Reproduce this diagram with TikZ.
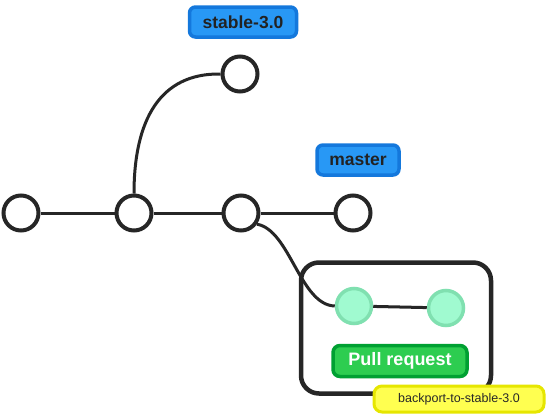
\documentclass[tikz,border=0pt]{standalone}
\usepackage{fontspec}
\setmainfont{Liberation Sans}
\begin{document}
\begin{tikzpicture}[x=1pt,y=-1pt,
  commit/.style={circle,draw=black!85,line width=4pt,fill=white,minimum size=35pt,inner sep=0pt},
  prcommit/.style={circle,draw={rgb,255:red,128;green,224;blue,176},line width=3.5pt,fill={rgb,255:red,160;green,250;blue,208},minimum size=35pt,inner sep=0pt},
  branch/.style={rounded corners=6pt,draw={rgb,255:red,20;green,120;blue,220},line width=3.5pt,fill={rgb,255:red,40;green,152;blue,245},text={rgb,255:red,34;green,34;blue,34},font=\bfseries\fontsize{17.5}{19}\selectfont,minimum height=30pt},
  prlabel/.style={rounded corners=7pt,draw={rgb,255:red,0;green,160;blue,50},line width=3.5pt,fill={rgb,255:red,45;green,205;blue,80},text=white,font=\bfseries\fontsize{18}{20}\selectfont,minimum width=134pt,minimum height=31pt},
  tag/.style={rounded corners=8pt,draw={rgb,255:red,230;green,230;blue,0},line width=3pt,fill={rgb,255:red,255;green,255;blue,80},text={rgb,255:red,40;green,40;blue,40},font=\fontsize{12.5}{14}\selectfont,minimum width=170pt,minimum height=26pt},
  link/.style={draw=black!85,line width=3pt}]
\useasboundingbox (0,0) rectangle (548,415);
\fill[white] (0,0) rectangle (548,415);
% PR box
\node[draw=black!85,line width=4.5pt,rounded corners=18pt,minimum width=190pt,minimum height=131pt] (prbox) at (396,328) {};
% commits
\node[commit] (c1) at (21,213) {};
\node[commit] (c2) at (134,213) {};
\node[commit] (c3) at (241,213) {};
\node[commit] (c4) at (353,213) {};
\node[commit] (ct) at (240,74) {};
\node[prcommit] (p1) at (354,306) {};
\node[prcommit] (p2) at (446,308) {};
% links
\draw[link] (c1) -- (c2);
\draw[link] (c2) -- (c3);
\draw[link] (c3) -- (c4);
\draw[link] (c2.north) .. controls (134,120) and (160,73) .. (ct.west);
\draw[link] (c3.-35) .. controls (290,230) and (300,305) .. (p1.west);
\draw[link] (p1) -- (p2);
% labels
\node[branch,minimum width=107pt] (stable) at (243,22) {stable-3.0};
\node[branch,minimum width=82pt] (master) at (358,160) {master};
\node[prlabel] (pr) at (400,361) {Pull request};
\node[tag] (bp) at (459,399) {backport-to-stable-3.0};
\end{tikzpicture}
\end{document}
